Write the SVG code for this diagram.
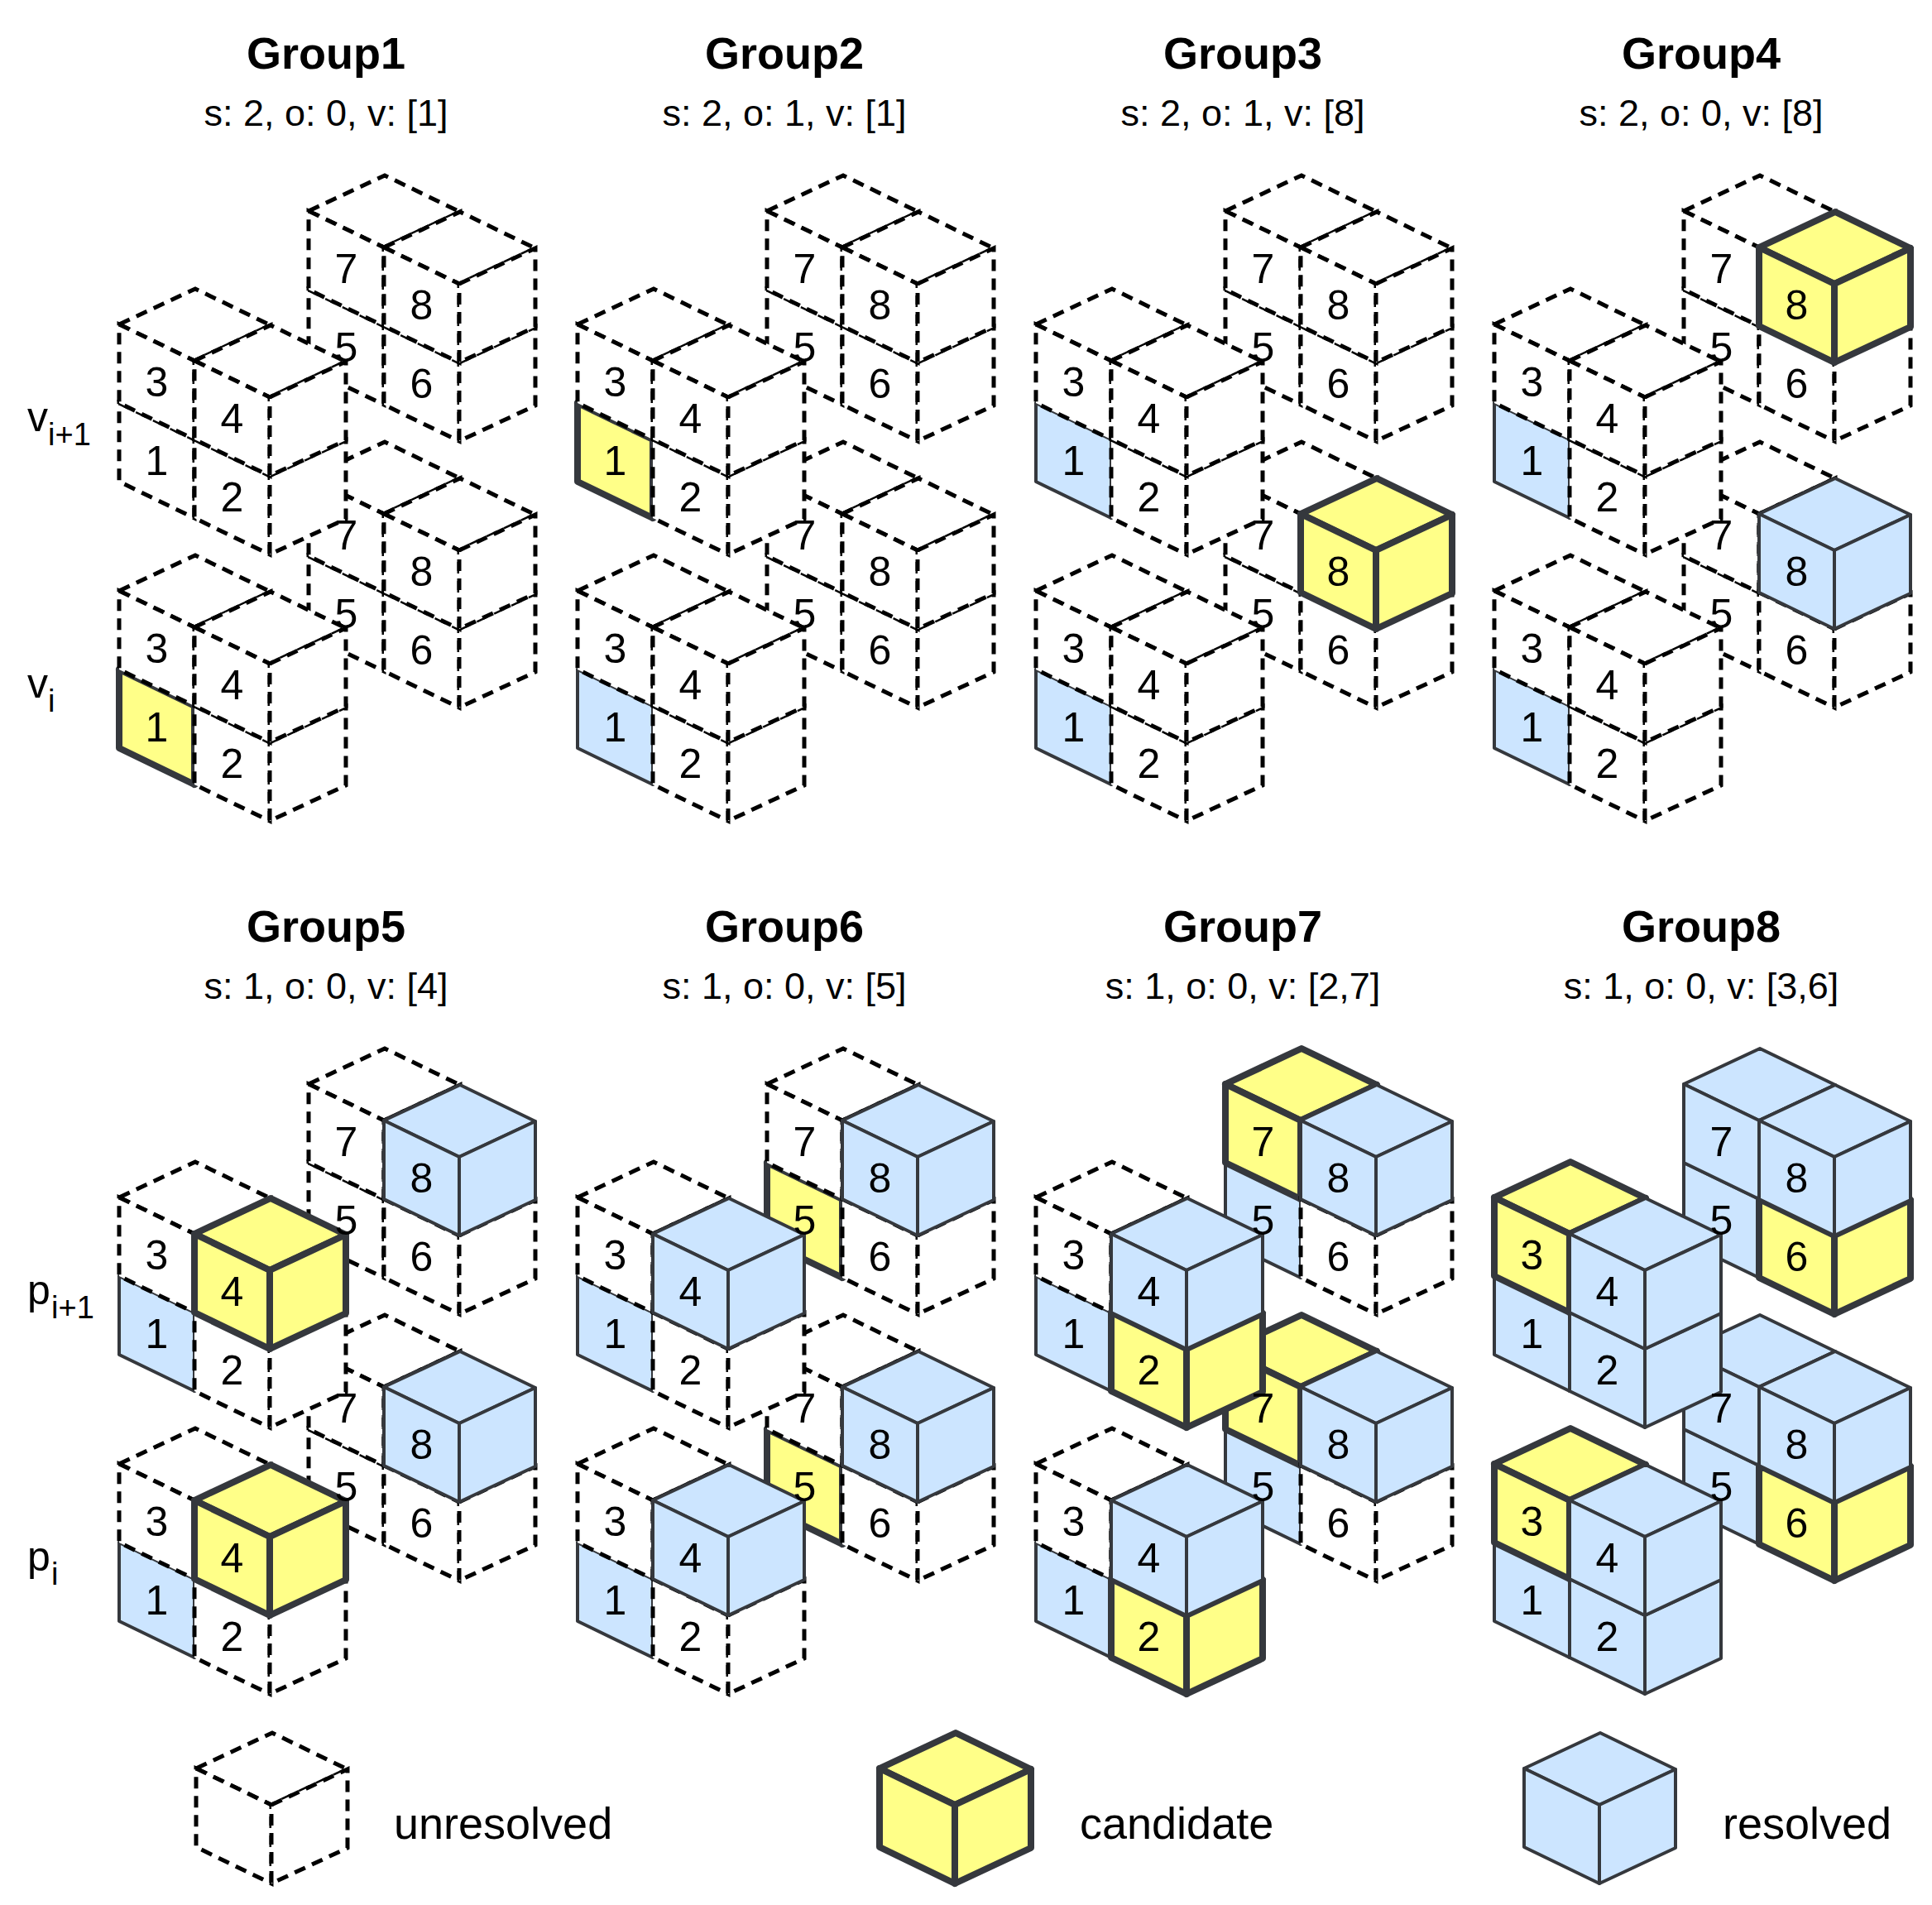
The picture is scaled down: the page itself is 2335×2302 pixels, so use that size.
<svg xmlns="http://www.w3.org/2000/svg" xmlns:xlink="http://www.w3.org/1999/xlink" width="2335" height="2302" viewBox="0 0 2335 2302">
<style>
text{font-family:"Liberation Sans",Arial,sans-serif;fill:#000}
.t{font-size:54px;font-weight:bold;text-anchor:middle}
.s{font-size:45px;text-anchor:middle}
.n{font-size:50px;text-anchor:middle}
.l{font-size:50px}
.sub{font-size:38px}
.lg{font-size:54px}
.u polygon{fill:#fff;stroke:#000;stroke-width:5;stroke-dasharray:14 9;stroke-linejoin:miter}
.r polygon{fill:#cce5ff;stroke:#35383d;stroke-width:4;stroke-linejoin:round}
.c polygon{fill:#ffff88;stroke:#35383d;stroke-width:8;stroke-linejoin:round}
</style>
<defs>
<g id="u" class="u"><polygon points="0,0 92,-43 183,1 91,44"/><polygon points="0,0 91,44 91,139 0,95"/><polygon points="91,44 183,1 183,96 91,139"/></g>
<g id="r" class="r"><polygon points="0,0 92,-43 183,1 91,44"/><polygon points="0,0 91,44 91,139 0,95"/><polygon points="91,44 183,1 183,96 91,139"/></g>
<g id="c" class="c"><polygon points="0,0 92,-43 183,1 91,44"/><polygon points="0,0 91,44 91,139 0,95"/><polygon points="91,44 183,1 183,96 91,139"/></g>
<g id="labels">
<text class="n" x="418.5" y="437">5</text><text class="n" x="418.5" y="342">7</text><text class="n" x="509.5" y="481">6</text><text class="n" x="509.5" y="386">8</text>
<text class="n" x="418.5" y="759">5</text><text class="n" x="418.5" y="664">7</text><text class="n" x="509.5" y="803">6</text><text class="n" x="509.5" y="708">8</text>
<text class="n" x="189.5" y="574">1</text><text class="n" x="189.5" y="479">3</text><text class="n" x="280.5" y="618">2</text><text class="n" x="280.5" y="523">4</text>
<text class="n" x="189.5" y="896">1</text><text class="n" x="189.5" y="801">3</text><text class="n" x="280.5" y="940">2</text><text class="n" x="280.5" y="845">4</text>
</g>
</defs>

<g id="group1">
<text class="t" x="394" y="83">Group1</text><text class="s" x="394" y="152">s: 2, o: 0, v: [1]</text>
<use href="#u" x="373" y="350"/><use href="#u" x="373" y="255"/><use href="#u" x="464" y="394"/><use href="#u" x="464" y="299"/>
<use href="#u" x="373" y="672"/><use href="#u" x="373" y="577"/><use href="#u" x="464" y="716"/><use href="#u" x="464" y="621"/>
<use href="#u" x="144" y="487"/><use href="#u" x="144" y="392"/><use href="#u" x="235" y="531"/><use href="#u" x="235" y="436"/>
<use href="#c" x="144" y="809"/><use href="#u" x="144" y="714"/><use href="#u" x="235" y="853"/><use href="#u" x="235" y="758"/>
<use href="#labels"/>
</g>

<g id="group2" transform="translate(554,0)">
<text class="t" x="394" y="83">Group2</text><text class="s" x="394" y="152">s: 2, o: 1, v: [1]</text>
<use href="#u" x="373" y="350"/><use href="#u" x="373" y="255"/><use href="#u" x="464" y="394"/><use href="#u" x="464" y="299"/>
<use href="#u" x="373" y="672"/><use href="#u" x="373" y="577"/><use href="#u" x="464" y="716"/><use href="#u" x="464" y="621"/>
<use href="#c" x="144" y="487"/><use href="#u" x="144" y="392"/><use href="#u" x="235" y="531"/><use href="#u" x="235" y="436"/>
<use href="#r" x="144" y="809"/><use href="#u" x="144" y="714"/><use href="#u" x="235" y="853"/><use href="#u" x="235" y="758"/>
<use href="#labels"/>
</g>

<g id="group3" transform="translate(1108,0)">
<text class="t" x="394" y="83">Group3</text><text class="s" x="394" y="152">s: 2, o: 1, v: [8]</text>
<use href="#u" x="373" y="350"/><use href="#u" x="373" y="255"/><use href="#u" x="464" y="394"/><use href="#u" x="464" y="299"/>
<use href="#u" x="373" y="672"/><use href="#u" x="373" y="577"/><use href="#u" x="464" y="716"/><use href="#c" x="464" y="621"/>
<use href="#r" x="144" y="487"/><use href="#u" x="144" y="392"/><use href="#u" x="235" y="531"/><use href="#u" x="235" y="436"/>
<use href="#r" x="144" y="809"/><use href="#u" x="144" y="714"/><use href="#u" x="235" y="853"/><use href="#u" x="235" y="758"/>
<use href="#labels"/>
</g>

<g id="group4" transform="translate(1662,0)">
<text class="t" x="394" y="83">Group4</text><text class="s" x="394" y="152">s: 2, o: 0, v: [8]</text>
<use href="#u" x="373" y="350"/><use href="#u" x="373" y="255"/><use href="#u" x="464" y="394"/><use href="#c" x="464" y="299"/>
<use href="#u" x="373" y="672"/><use href="#u" x="373" y="577"/><use href="#u" x="464" y="716"/><use href="#r" x="464" y="621"/>
<use href="#r" x="144" y="487"/><use href="#u" x="144" y="392"/><use href="#u" x="235" y="531"/><use href="#u" x="235" y="436"/>
<use href="#r" x="144" y="809"/><use href="#u" x="144" y="714"/><use href="#u" x="235" y="853"/><use href="#u" x="235" y="758"/>
<use href="#labels"/>
</g>

<g id="group5" transform="translate(0,1055)">
<text class="t" x="394" y="83">Group5</text><text class="s" x="394" y="152">s: 1, o: 0, v: [4]</text>
<use href="#u" x="373" y="350"/><use href="#u" x="373" y="255"/><use href="#u" x="464" y="394"/><use href="#r" x="464" y="299"/>
<use href="#u" x="373" y="672"/><use href="#u" x="373" y="577"/><use href="#u" x="464" y="716"/><use href="#r" x="464" y="621"/>
<use href="#r" x="144" y="487"/><use href="#u" x="144" y="392"/><use href="#u" x="235" y="531"/><use href="#c" x="235" y="436"/>
<use href="#r" x="144" y="809"/><use href="#u" x="144" y="714"/><use href="#u" x="235" y="853"/><use href="#c" x="235" y="758"/>
<use href="#labels"/>
</g>

<g id="group6" transform="translate(554,1055)">
<text class="t" x="394" y="83">Group6</text><text class="s" x="394" y="152">s: 1, o: 0, v: [5]</text>
<use href="#c" x="373" y="350"/><use href="#u" x="373" y="255"/><use href="#u" x="464" y="394"/><use href="#r" x="464" y="299"/>
<use href="#c" x="373" y="672"/><use href="#u" x="373" y="577"/><use href="#u" x="464" y="716"/><use href="#r" x="464" y="621"/>
<use href="#r" x="144" y="487"/><use href="#u" x="144" y="392"/><use href="#u" x="235" y="531"/><use href="#r" x="235" y="436"/>
<use href="#r" x="144" y="809"/><use href="#u" x="144" y="714"/><use href="#u" x="235" y="853"/><use href="#r" x="235" y="758"/>
<use href="#labels"/>
</g>

<g id="group7" transform="translate(1108,1055)">
<text class="t" x="394" y="83">Group7</text><text class="s" x="394" y="152">s: 1, o: 0, v: [2,7]</text>
<use href="#r" x="373" y="350"/><use href="#c" x="373" y="255"/><use href="#u" x="464" y="394"/><use href="#r" x="464" y="299"/>
<use href="#r" x="373" y="672"/><use href="#c" x="373" y="577"/><use href="#u" x="464" y="716"/><use href="#r" x="464" y="621"/>
<use href="#r" x="144" y="487"/><use href="#u" x="144" y="392"/><use href="#c" x="235" y="531"/><use href="#r" x="235" y="436"/>
<use href="#r" x="144" y="809"/><use href="#u" x="144" y="714"/><use href="#c" x="235" y="853"/><use href="#r" x="235" y="758"/>
<use href="#labels"/>
</g>

<g id="group8" transform="translate(1662,1055)">
<text class="t" x="394" y="83">Group8</text><text class="s" x="394" y="152">s: 1, o: 0, v: [3,6]</text>
<use href="#r" x="373" y="350"/><use href="#r" x="373" y="255"/><use href="#c" x="464" y="394"/><use href="#r" x="464" y="299"/>
<use href="#r" x="373" y="672"/><use href="#r" x="373" y="577"/><use href="#c" x="464" y="716"/><use href="#r" x="464" y="621"/>
<use href="#r" x="144" y="487"/><use href="#c" x="144" y="392"/><use href="#r" x="235" y="531"/><use href="#r" x="235" y="436"/>
<use href="#r" x="144" y="809"/><use href="#c" x="144" y="714"/><use href="#r" x="235" y="853"/><use href="#r" x="235" y="758"/>
<use href="#labels"/>
</g>

<g id="layer-labels">
<text class="l" x="33" y="521">v</text><text class="sub" x="58" y="538">i+1</text>
<text class="l" x="33" y="843">v</text><text class="sub" x="58" y="860">i</text>
<text class="l" x="33" y="1576">p</text><text class="sub" x="62" y="1593">i+1</text>
<text class="l" x="33" y="1898">p</text><text class="sub" x="62" y="1915">i</text>
</g>

<g id="legend">
<use href="#u" x="237" y="2137"/><text class="lg" x="476" y="2222">unresolved</text>
<use href="#c" x="1063" y="2137"/><text class="lg" x="1305" y="2222">candidate</text>
<use href="#r" x="1842" y="2137"/><text class="lg" x="2082" y="2222">resolved</text>
</g>
<g id="connectors"/>
</svg>
